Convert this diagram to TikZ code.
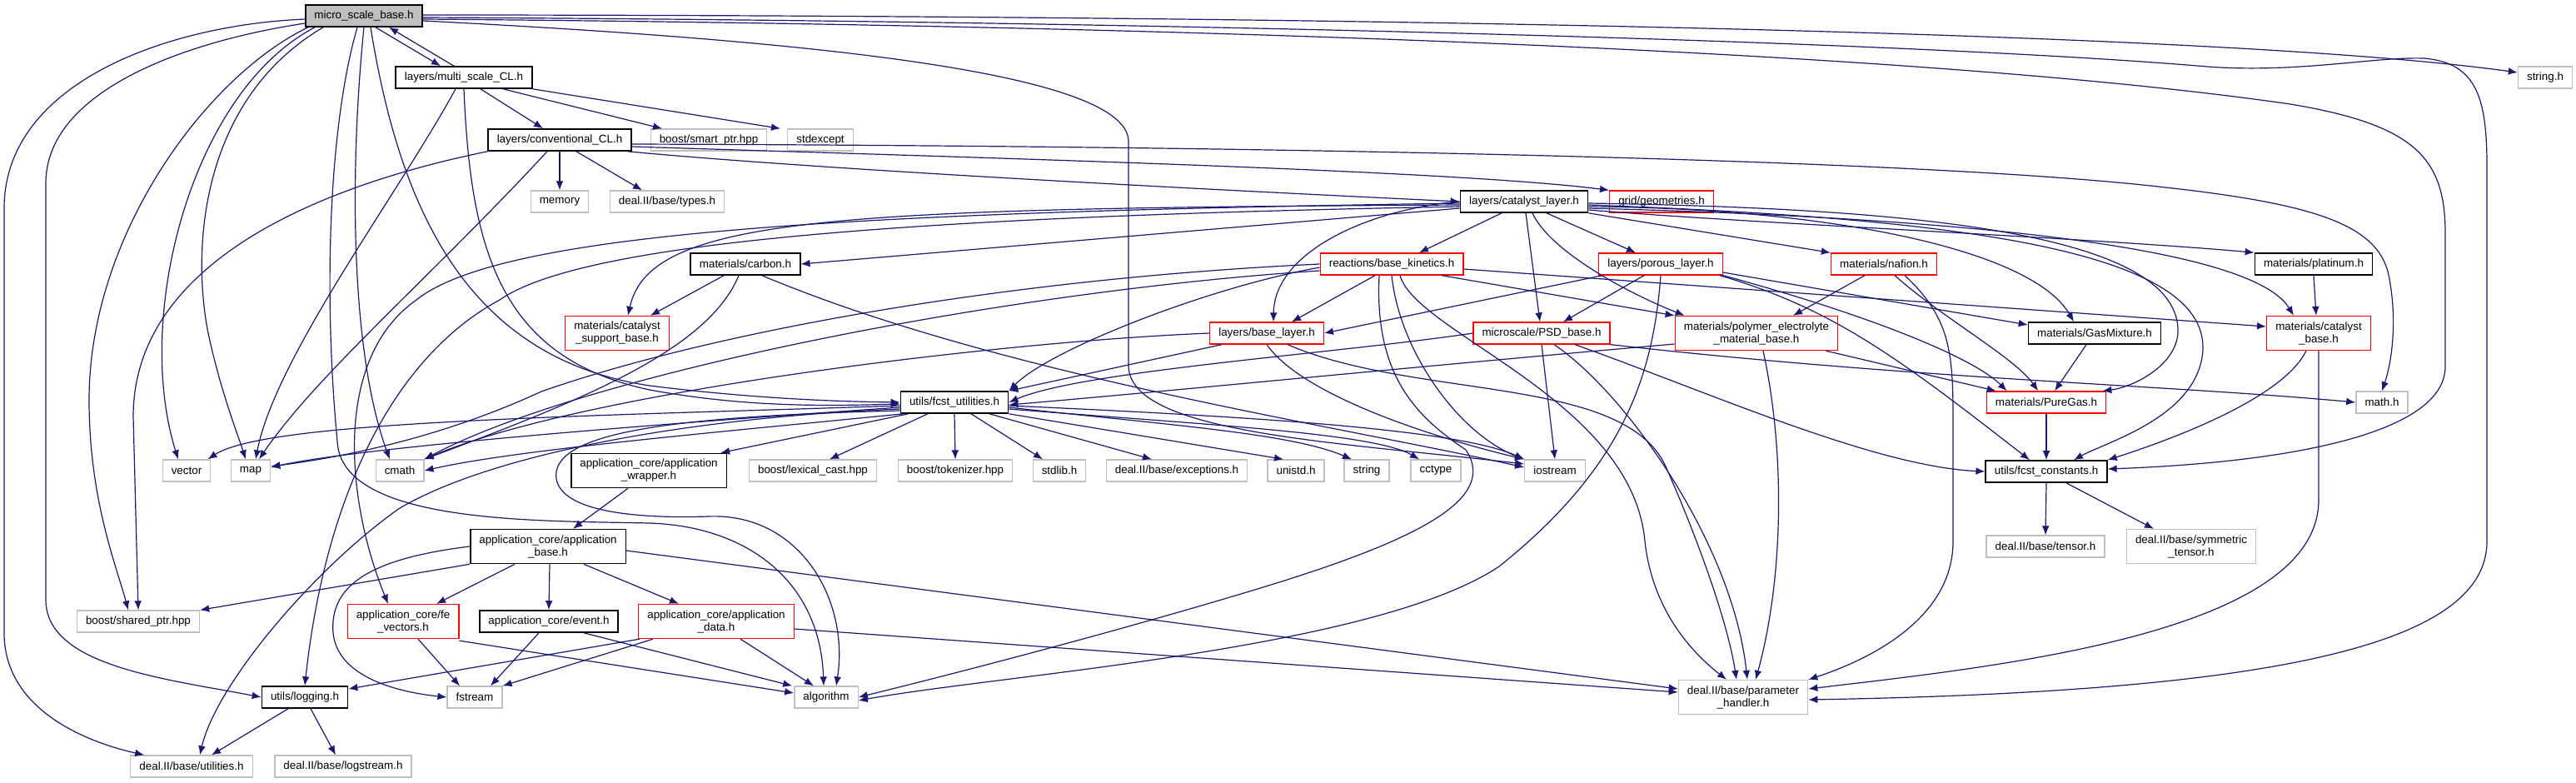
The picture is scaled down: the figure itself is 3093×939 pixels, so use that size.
\documentclass[tikz,border=0pt]{standalone}
\usepackage{fontspec}
\setmainfont{Liberation Sans}
\usetikzlibrary{arrows.meta,calc}
\definecolor{edgec}{RGB}{25,25,112}
\definecolor{gborder}{RGB}{191,191,191}
\definecolor{gfill}{RGB}{191,191,191}
\definecolor{rborder}{RGB}{255,0,0}
\tikzset{
  nd/.style={rectangle, inner xsep=5.3pt, inner ysep=0pt, minimum height=13pt, align=center,
    font=\fontsize{6.7pt}{7.5pt}\selectfont, text=black},
  blk/.style={nd, draw=black, line width=0.8pt},
  trunc/.style={nd, draw=rborder, line width=0.65pt},
  sys/.style={nd, draw=gborder, line width=0.65pt},
  mainnd/.style={nd, draw=black, fill=gfill, line width=0.8pt},
  two/.style={minimum height=20.5pt},
  lk/.style={draw=edgec, line width=0.6pt, -{Latex[length=5.5pt,width=4.4pt]}},
}
\begin{document}
\begin{tikzpicture}[x=0.5pt,y=-0.5pt]
\useasboundingbox (0,0) rectangle (3093,939);
\fill[white] (0,0) rectangle (3093,939);
% ---------------- nodes ----------------
\node[mainnd] (M) at (437,19) {micro\_scale\_base.h};
\node[blk] (MS) at (557,93) {layers/multi\_scale\_CL.h};
\node[blk] (CC) at (672,168) {layers/conventional\_CL.h};
\node[sys] (smartptr) at (851,168) {boost/smart\_ptr.hpp};
\node[sys] (stdexcept) at (985,168) {stdexcept};
\node[sys] (stringh) at (3056,93) {string.h};
\node[sys] (memory) at (672,242) {memory};
\node[sys] (types) at (801,242) {deal.II/base/types.h};
\node[blk] (CL) at (1830,242) {layers/catalyst\_layer.h};
\node[trunc] (geom) at (1995,242) {grid/geometries.h};
\node[blk] (carbon) at (895,317) {materials/carbon.h};
\node[trunc] (BK) at (1671,317) {reactions/base\_kinetics.h};
\node[trunc] (PL) at (1994,317) {layers/porous\_layer.h};
\node[trunc] (nafion) at (2262,317) {materials/nafion.h};
\node[blk] (platinum) at (2778,317) {materials/platinum.h};
\node[trunc,two] (CSB) at (741,400) {materials/catalyst\\\_support\_base.h};
\node[trunc] (BL) at (1521,400) {layers/base\_layer.h};
\node[trunc] (PSD) at (1851,400) {microscale/PSD\_base.h};
\node[trunc,two] (PEM) at (2109,400) {materials/polymer\_electrolyte\\\_material\_base.h};
\node[blk] (GasMix) at (2515,400) {materials/GasMixture.h};
\node[trunc,two] (CB) at (2784,400) {materials/catalyst\\\_base.h};
\node[blk] (FU) at (1146,483) {utils/fcst\_utilities.h};
\node[trunc] (PureGas) at (2457,483) {materials/PureGas.h};
\node[sys] (mathh) at (2860,483) {math.h};
\node[sys] (vector) at (224,565) {vector};
\node[sys] (map) at (301,565) {map};
\node[sys] (cmath) at (480,565) {cmath};
\node[blk,two] (appwrap) at (779,565) {application\_core/application\\\_wrapper.h};
\node[sys] (lexcast) at (976,565) {boost/lexical\_cast.hpp};
\node[sys] (tokenizer) at (1147,565) {boost/tokenizer.hpp};
\node[sys] (stdlib) at (1272,565) {stdlib.h};
\node[sys] (exceptions) at (1413,565) {deal.II/base/exceptions.h};
\node[sys] (unistd) at (1556,565) {unistd.h};
\node[sys] (string) at (1641,565) {string};
\node[sys] (cctype) at (1724,565) {cctype};
\node[sys] (iostream) at (1867,565) {iostream};
\node[blk] (FC) at (2457,566) {utils/fcst\_constants.h};
\node[blk,two] (appbase) at (658,656) {application\_core/application\\\_base.h};
\node[sys] (tensor) at (2456,656) {deal.II/base/tensor.h};
\node[sys,two] (symtensor) at (2631,656) {deal.II/base/symmetric\\\_tensor.h};
\node[sys] (sharedptr) at (166,746) {boost/shared\_ptr.hpp};
\node[trunc,two] (fevectors) at (484,746) {application\_core/fe\\\_vectors.h};
\node[blk] (event) at (659,746) {application\_core/event.h};
\node[trunc,two] (appdata) at (860,746) {application\_core/application\\\_data.h};
\node[blk] (logging) at (366,837) {utils/logging.h};
\node[sys] (fstream) at (570,837) {fstream};
\node[sys] (algorithm) at (992,837) {algorithm};
\node[sys,two] (PH) at (2093,837) {deal.II/base/parameter\\\_handler.h};
\node[sys] (utilities) at (230,920) {deal.II/base/utilities.h};
\node[sys] (logstream) at (412,920) {deal.II/base/logstream.h};
% ---------------- edges: micro_scale_base ----------------
\draw[lk] ($(M.south)+(14,0)$) -- ($(MS.north)+(-28,0)$);
\draw[lk] ($(MS.north)+(-12,0)$) -- ($(M.south)+(30,0)$);
\draw[lk] ($(M.east)+(0,-1)$) .. controls (1500,18) and (2650,35) .. ($(stringh.west)+(0,-6)$);
\draw[lk] ($(M.east)+(0,2)$) .. controls (1400,25) and (2300,50) .. (2650,80) .. controls (2760,88) and (2850,68) .. (2910,70) .. controls (2975,75) and (2986,120) .. (2986,200) -- (2986,650) .. controls (2986,770) and (2750,830) .. ($(PH.east)+(0,3)$);
\draw[lk] ($(M.east)+(0,4)$) .. controls (1400,30) and (2300,60) .. (2750,125) .. controls (2900,150) and (2936,190) .. (2936,280) -- (2936,440) .. controls (2936,520) and (2750,555) .. ($(FC.east)+(0,-3)$);
\draw[lk] ($(M.east)+(0,6)$) .. controls (1000,50) and (1355,90) .. (1355,170) -- (1355,440) .. controls (1358,520) and (1600,530) .. ($(iostream.west)+(0,-8)$);
\draw[lk] ($(M.west)+(0,4)$) .. controls (200,30) and (5,100) .. (5,250) -- (5,760) .. controls (5,850) and (100,890) .. ($(utilities.north west)+(17,0)$);
\draw[lk] ($(M.west)+(0,9)$) .. controls (220,50) and (55,110) .. (55,220) -- (55,720) .. controls (55,800) and (200,815) .. (logging.west);
\draw[lk] ($(M.south west)+(4,0)$) .. controls (250,90) and (107,280) .. (107,480) .. controls (107,600) and (140,680) .. ($(sharedptr.north)+(-12,0)$);
\draw[lk] ($(M.south west)+(12,0)$) .. controls (230,110) and (160,380) .. ($(vector.north)+(-10,0)$);
\draw[lk] ($(M.south west)+(22,0)$) .. controls (240,120) and (230,300) .. (250,400) .. controls (265,470) and (285,520) .. ($(map.north)+(-6,0)$);
\draw[lk] (M.south) .. controls (420,200) and (420,420) .. ($(cmath.north)+(-12,0)$);
\draw[lk] ($(M.south)+(-8,0)$) .. controls (395,150) and (388,350) .. (405,530) .. controls (410,630) and (650,625) .. (780,628) .. controls (900,632) and (985,700) .. ($(algorithm.north)+(-3,0)$);
\draw[lk] ($(M.south)+(8,0)$) .. controls (480,250) and (560,430) .. (780,463) .. controls (900,478) and (1000,482) .. (FU.west);
% ---------------- multi_scale_CL ----------------
\draw[lk] ($(MS.south)+(20,0)$) -- ($(CC.north)+(-20,0)$);
\draw[lk] ($(MS.south)+(47,0)$) -- ($(smartptr.north)+(-56,0)$);
\draw[lk] (MS.south east) -- ($(stdexcept.north)+(-48,0)$);
\draw[lk] ($(MS.south)+(-10,0)$) .. controls (480,230) and (330,430) .. ($(map.north)+(6,0)$);
\draw[lk] (MS.south) .. controls (565,300) and (600,430) .. (780,468) .. controls (900,490) and (1000,487) .. ($(FU.west)+(0,2)$);
% ---------------- conventional_CL ----------------
\draw[lk] (CC.south) -- (memory.north);
\draw[lk] ($(CC.south)+(20,0)$) -- ($(types.north)+(-30,0)$);
\draw[lk] ($(CC.south east)+(-5,0)$) .. controls (1000,205) and (1500,230) .. (CL.west);
\draw[lk] ($(CC.east)+(0,8)$) .. controls (1200,190) and (1750,205) .. (geom.north west);
\draw[lk] ($(CC.east)+(0,5)$) .. controls (1500,175) and (2300,190) .. (2600,225) .. controls (2780,245) and (2855,270) .. (2868,330) .. controls (2880,390) and (2870,440) .. (mathh.north);
\draw[lk] (CC.south west) .. controls (350,230) and (160,330) .. (160,500) -- (sharedptr.north);
\draw[lk] ($(CC.south)+(-15,0)$) .. controls (520,330) and (380,450) .. ($(map.north)+(10,0)$);
% ---------------- catalyst_layer ----------------
\draw[lk] ($(CL.west)+(0,8)$) -- (carbon.east);
\draw[lk] ($(CL.west)+(0,4)$) .. controls (1000,250) and (780,260) .. ($(CSB.north)+(13,0)$);
\draw[lk] ($(CL.west)+(0,2)$) .. controls (1000,255) and (600,280) .. (500,360) .. controls (400,430) and (415,600) .. ($(fevectors.north)+(-18,0)$);
\draw[lk] ($(CL.west)+(0,6)$) .. controls (1100,260) and (700,290) .. (600,360) .. controls (470,430) and (390,600) .. (logging.north);
\draw[lk] (CL.west) .. controls (1650,250) and (1530,300) .. ($(BL.north)+(8,0)$);
\draw[lk] ($(CL.south)+(-27,0)$) -- ($(BK.north)+(33,0)$);
\draw[lk] ($(CL.south)+(2,0)$) -- ($(PSD.north)+(-2,0)$);
\draw[lk] ($(CL.south)+(10,0)$) .. controls (1860,300) and (1950,350) .. ($(PEM.north west)+(12,0)$);
\draw[lk] ($(CL.south)+(27,0)$) -- ($(PL.north)+(-30,0)$);
\draw[lk] (CL.south east) -- (nafion.north west);
\draw[lk] ($(CL.east)+(0,10)$) .. controls (2100,268) and (2500,285) .. (platinum.north west);
\draw[lk] ($(CL.east)+(0,6)$) .. controls (2200,250) and (2440,300) .. ($(GasMix.north)+(-25,0)$);
\draw[lk] ($(CL.east)+(0,8)$) .. controls (2300,260) and (2700,290) .. ($(CB.north)+(-30,0)$);
\draw[lk] ($(CL.east)+(0,2)$) .. controls (2300,250) and (2620,280) .. (2615,400) .. controls (2612,440) and (2560,465) .. ($(PureGas.north east)+(-5,0)$);
\draw[lk] ($(CL.east)+(0,4)$) .. controls (2350,262) and (2650,300) .. (2645,420) .. controls (2640,500) and (2530,530) .. ($(FC.north)+(33,0)$);
% ---------------- base_kinetics ----------------
\draw[lk] ($(BK.south)+(-20,0)$) -- ($(BL.north)+(30,0)$);
\draw[lk] ($(BK.south)+(60,0)$) -- (PEM.north west);
\draw[lk] ($(BK.east)+(0,6)$) -- ($(CB.west)+(0,-8)$);
\draw[lk] ($(BK.west)+(0,4)$) .. controls (1450,345) and (1260,420) .. (FU.north east);
\draw[lk] (BK.west) .. controls (1200,335) and (850,400) .. (650,470) .. controls (520,530) and (400,550) .. ($(map.east)+(0,-5)$);
\draw[lk] ($(BK.west)+(0,8)$) .. controls (1200,350) and (700,450) .. (cmath.north east);
\draw[lk] (BK.south) .. controls (1680,420) and (1750,520) .. (iostream.north west);
\draw[lk] ($(BK.south)+(10,0)$) .. controls (1700,400) and (1960,480) .. (1975,650) .. controls (1985,740) and (2040,790) .. ($(PH.north)+(-20,0)$);
\draw[lk] ($(BK.south)+(-15,0)$) .. controls (1650,450) and (1700,500) .. (1760,540) .. controls (1800,600) and (1700,650) .. (1500,710) .. controls (1300,770) and (1100,820) .. (algorithm.east);
% ---------------- base_layer ----------------
\draw[lk] ($(BL.south west)+(15,0)$) -- (FU.north east);
\draw[lk] (BL.south) .. controls (1560,470) and (1700,520) .. (iostream.north west);
\draw[lk] ($(BL.south)+(25,0)$) .. controls (1700,480) and (1950,450) .. (2000,560) .. controls (2040,650) and (2075,750) .. ($(PH.north)+(-8,0)$);
\draw[lk] (BL.west) .. controls (1200,410) and (700,470) .. (cmath.north east);
% ---------------- PSD_base ----------------
\draw[lk] (PSD.west) .. controls (1600,425) and (1300,445) .. (FU.east);
\draw[lk] (PSD.south) -- (iostream.north);
\draw[lk] ($(PSD.south)+(15,0)$) .. controls (1950,470) and (2080,650) .. ($(PH.north)+(5,0)$);
\draw[lk] (PSD.south east) .. controls (2300,455) and (2600,462) .. (mathh.west);
\draw[lk] ($(PSD.south)+(40,0)$) .. controls (2050,470) and (2250,560) .. (FC.west);
% ---------------- polymer electrolyte ----------------
\draw[lk] ($(PEM.south east)+(-15,0)$) -- ($(PureGas.north west)+(12,0)$);
\draw[lk] ($(PEM.south)+(8,0)$) .. controls (2145,550) and (2140,700) .. ($(PH.north)+(15,0)$);
\draw[lk] ($(PEM.west)+(0,13)$) .. controls (1700,440) and (1400,470) .. ($(FU.east)+(0,3)$);
% ---------------- nafion ----------------
\draw[lk] ($(nafion.south)+(-23,0)$) -- ($(PEM.north)+(44,0)$);
\draw[lk] ($(nafion.south)+(13,0)$) .. controls (2330,380) and (2420,430) .. ($(PureGas.north)+(-10,0)$);
\draw[lk] ($(nafion.south)+(25,0)$) .. controls (2340,380) and (2345,420) .. (2345,500) -- (2345,650) .. controls (2345,740) and (2250,790) .. (PH.north east);
% ---------------- porous_layer ----------------
\draw[lk] ($(PL.south west)+(5,0)$) -- (BL.east);
\draw[lk] ($(PL.south)+(-20,0)$) -- ($(PSD.north)+(26,0)$);
\draw[lk] (PL.south) .. controls (1985,450) and (1950,560) .. (1800,680) .. controls (1650,780) and (1200,810) .. ($(algorithm.east)+(0,4)$);
\draw[lk] ($(PL.east)+(0,10)$) -- ($(GasMix.west)+(0,-10)$);
\draw[lk] (PL.south east) .. controls (2250,380) and (2370,430) .. ($(PureGas.north west)+(25,0)$);
\draw[lk] ($(PL.south east)+(-4,0)$) .. controls (2200,370) and (2280,430) .. ($(FC.north)+(-20,0)$);
% ---------------- carbon ----------------
\draw[lk] ($(carbon.south)+(-26,0)$) -- ($(CSB.north)+(40,0)$);
\draw[lk] ($(carbon.south)+(-8,0)$) .. controls (850,420) and (700,480) .. (cmath.north east);
\draw[lk] ($(carbon.south)+(20,0)$) .. controls (1200,450) and (1600,510) .. ($(iostream.west)+(0,-4)$);
% ---------------- fcst_utilities ----------------
\draw[lk] ($(FU.west)+(0,4)$) .. controls (700,500) and (320,505) .. ($(vector.north east)+(-4,0)$);
\draw[lk] ($(FU.west)+(0,6)$) .. controls (700,515) and (420,540) .. ($(map.east)+(0,-4)$);
\draw[lk] ($(FU.south west)+(4,0)$) .. controls (850,520) and (620,540) .. (cmath.east);
\draw[lk] ($(FU.south west)+(10,0)$) -- ($(appwrap.north east)+(-8,0)$);
\draw[lk] ($(FU.south)+(-32,0)$) -- ($(lexcast.north)+(20,0)$);
\draw[lk] (FU.south) -- (tokenizer.north);
\draw[lk] ($(FU.south)+(20,0)$) -- ($(stdlib.north)+(-20,0)$);
\draw[lk] ($(FU.south)+(42,0)$) -- ($(exceptions.north)+(-30,0)$);
\draw[lk] (FU.south east) -- ($(unistd.north)+(-15,0)$);
\draw[lk] ($(FU.east)+(0,6)$) .. controls (1400,510) and (1550,520) .. ($(string.north)+(-18,0)$);
\draw[lk] ($(FU.east)+(0,8)$) .. controls (1450,510) and (1650,520) .. ($(cctype.north)+(-20,0)$);
\draw[lk] ($(FU.east)+(0,4)$) .. controls (1500,500) and (1750,515) .. (iostream.north west);
\draw[lk] ($(FU.west)+(0,8)$) .. controls (850,500) and (600,540) .. (480,610) .. controls (380,680) and (260,820) .. ($(utilities.north)+(10,0)$);
\draw[lk] ($(FU.west)+(0,10)$) .. controls (800,500) and (660,520) .. (668,575) .. controls (676,620) and (790,622) .. (850,620) .. controls (960,615) and (1020,720) .. ($(algorithm.north)+(12,0)$);
% ---------------- application core ----------------
\draw[lk] ($(appwrap.south)+(-25,0)$) -- ($(appbase.north)+(30,0)$);
\draw[lk] (appbase.south west) -- (sharedptr.north east);
\draw[lk] ($(appbase.south)+(-40,0)$) -- ($(fevectors.north)+(40,0)$);
\draw[lk] ($(appbase.south)+(2,0)$) -- (event.north);
\draw[lk] ($(appbase.south)+(43,0)$) -- ($(appdata.north)+(-45,0)$);
\draw[lk] (appbase.west) .. controls (450,670) and (395,700) .. (400,760) .. controls (405,810) and (470,830) .. (fstream.west);
\draw[lk] ($(appbase.east)+(0,5)$) -- ($(PH.west)+(0,-10)$);
\draw[lk] ($(fevectors.south)+(18,0)$) -- ($(fstream.north)+(-18,0)$);
\draw[lk] ($(fevectors.south east)+(0,2)$) -- ($(algorithm.west)+(0,-5)$);
\draw[lk] ($(event.south)+(-12,0)$) -- ($(fstream.north)+(19,0)$);
\draw[lk] ($(event.south)+(42,0)$) -- ($(algorithm.north west)+(-2,0)$);
\draw[lk] ($(appdata.south west)+(2,0)$) -- ($(logging.east)+(0,-10)$);
\draw[lk] ($(appdata.south west)+(18,0)$) -- (fstream.north east);
\draw[lk] ($(appdata.south)+(29,0)$) -- ($(algorithm.north)+(-15,0)$);
\draw[lk] ($(appdata.east)+(0,9)$) -- ($(PH.west)+(0,-6)$);
% ---------------- logging ----------------
\draw[lk] ($(logging.south)+(-20,0)$) -- ($(utilities.north)+(24,0)$);
\draw[lk] ($(logging.south)+(7,0)$) -- ($(logstream.north)+(-9,0)$);
% ---------------- materials ----------------
\draw[lk] (platinum.south) -- ($(CB.north)+(-3,0)$);
\draw[lk] ($(GasMix.south)+(-10,0)$) -- ($(PureGas.north)+(10,0)$);
\draw[lk] (PureGas.south) -- (FC.north);
\draw[lk] ($(CB.south)+(-15,0)$) .. controls (2740,480) and (2600,530) .. (FC.north east);
\draw[lk] (CB.south) -- (2784,600) .. controls (2784,760) and (2400,800) .. ($(PH.east)+(0,-10)$);
\draw[lk] (FC.south) -- (tensor.north);
\draw[lk] ($(FC.south)+(24,0)$) -- ($(symtensor.north)+(-45,0)$);
\end{tikzpicture}
\end{document}
